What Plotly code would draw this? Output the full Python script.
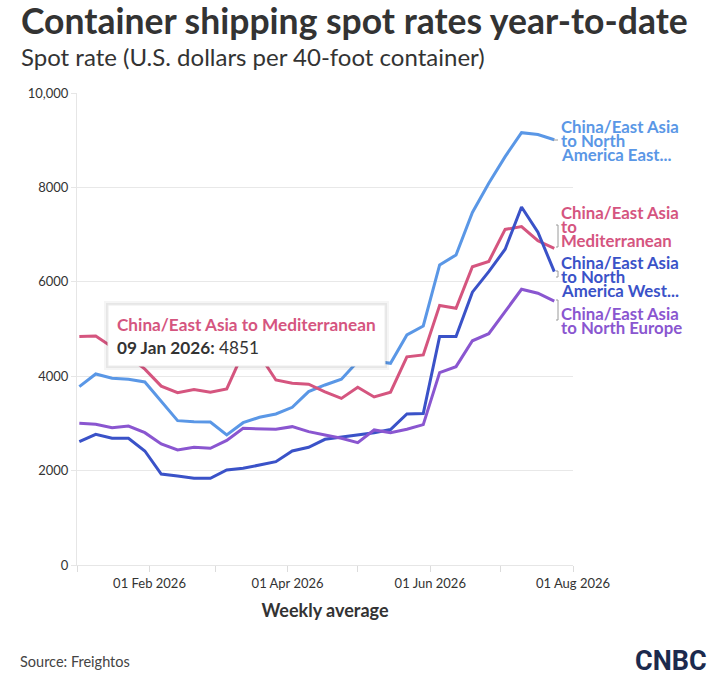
import plotly.graph_objects as go

# ---------------- data ----------------
dates = ["2026-01-02", "2026-01-09", "2026-01-16", "2026-01-23", "2026-01-30",
         "2026-02-06", "2026-02-13", "2026-02-20", "2026-02-27", "2026-03-06",
         "2026-03-13", "2026-03-20", "2026-03-27", "2026-04-03", "2026-04-10",
         "2026-04-17", "2026-04-24", "2026-05-01", "2026-05-08", "2026-05-15",
         "2026-05-22", "2026-05-29", "2026-06-05", "2026-06-12", "2026-06-19",
         "2026-06-26", "2026-07-03", "2026-07-10", "2026-07-17", "2026-07-24"]

na_east = [3778, 4047, 3956, 3935, 3878, 3475, 3058, 3037, 3030, 2755,
           3015, 3130, 3200, 3341, 3673, 3814, 3935, 4310, 4320, 4273,
           4874, 5064, 6357, 6569, 7470, 8090, 8652, 9160, 9120, 9010]
mediterranean = [4840, 4851, 4620, 4420, 4150, 3790, 3651, 3720, 3660, 3730,
                 4500, 4450, 3920, 3850, 3830, 3670, 3530, 3765, 3560, 3660,
                 4410, 4450, 5500, 5440, 6320, 6430, 7110, 7170, 6870, 6710]
na_west = [2613, 2769, 2684, 2684, 2416, 1928, 1886, 1837, 1837, 2013,
           2048, 2119, 2189, 2416, 2494, 2663, 2706, 2755, 2800, 2870,
           3200, 3210, 4840, 4840, 5780, 6215, 6690, 7585, 7050, 6215]
north_europe = [3002, 2981, 2910, 2945, 2804, 2564, 2437, 2494, 2472, 2640,
                2896, 2882, 2875, 2931, 2825, 2755, 2684, 2592, 2861, 2804,
                2875, 2975, 4075, 4202, 4750, 4900, 5380, 5842, 5757, 5590]

series_names = ["China/East Asia to North America East Coast",
                "China/East Asia to Mediterranean",
                "China/East Asia to North America West Coast",
                "China/East Asia to North Europe"]
series_label_lines = [["China/East Asia", "to North", "America East..."],
                      ["China/East Asia", "to", "Mediterranean"],
                      ["China/East Asia", "to North", "America West..."],
                      ["China/East Asia", "to North Europe"]]
series_values = [na_east, mediterranean, na_west, north_europe]
colors = ["#5a97e6", "#d5557f", "#3a52c8", "#8a56d0"]

y_tickvals = [0, 2000, 4000, 6000, 8000, 10000]
y_ticktext = ["0", "2000", "4000", "6000", "8000", "10,000"]
x_tickvals = ["2026-01-01", "2026-02-01", "2026-03-01", "2026-04-01",
              "2026-05-01", "2026-06-01", "2026-07-01", "2026-08-01"]
x_ticktext = ["", "01 Feb 2026", "", "01 Apr 2026", "", "01 Jun 2026", "", "01 Aug 2026"]

tooltip_series = "China/East Asia to Mediterranean"
tooltip_date = "09 Jan 2026"
tooltip_value = 4851

# ---------------- layout helpers ----------------
W, H = 714, 679
L, R, T, B = 77, 573, 93, 565


def px(x, y):
    return (x - L) / (R - L), (B - y) / (B - T)


FONT = "Lato, 'Open Sans', sans-serif"
TXT = "#333333"

fig = go.Figure()
for name, vals, col in zip(series_names, series_values, colors):
    fig.add_trace(go.Scatter(x=dates, y=vals, mode="lines", name=name,
                             line=dict(color=col, width=3)))

annotations = []


def text_at(x, y, text, size, color, anchor="left", family=FONT):
    ax, ay = px(x, y)
    annotations.append(dict(x=ax, y=ay, xref="paper", yref="paper", showarrow=False,
                            xanchor=anchor, yanchor="middle", text=text,
                            font=dict(family=family, size=size, color=color)))


# end labels (one annotation per line, tight line spacing)
label_top = [126, 212, 262, 313]
for lines, top, col in zip(series_label_lines, label_top, colors):
    for i, ln in enumerate(lines):
        text_at(559, top + 14.3 * i, "<b>" + ln + "</b>", 16.8, col)

shapes = []
# connectors
conn = [[(553, 140), (558, 140)],
        [(556, 225), (558, 225), (558, 247), (556, 247)],
        [(556, 271), (558, 271), (558, 277), (556, 277)],
        [(556, 300), (558, 300), (558, 320), (556, 320)]]
for pts in conn:
    path = ""
    for i, (a, b) in enumerate(pts):
        xx, yy = px(a, b)
        path += ("M" if i == 0 else "L") + f"{xx},{yy} "
    shapes.append(dict(type="path", xref="paper", yref="paper", path=path,
                       line=dict(color="#9a9a9a", width=1)))

# tooltip box with soft shadow
for off, op in [(4, 0.04), (2, 0.06)]:
    x0, y0 = px(108 - off, 366 + off)
    x1, y1 = px(385 + off, 305 - off)
    shapes.append(dict(type="rect", xref="paper", yref="paper", x0=x0, y0=y0, x1=x1, y1=y1,
                       fillcolor=f"rgba(0,0,0,{op})", line=dict(width=0), layer="above"))
x0, y0 = px(108, 366)
x1, y1 = px(385, 305)
shapes.append(dict(type="rect", xref="paper", yref="paper", x0=x0, y0=y0, x1=x1, y1=y1,
                   fillcolor="white", line=dict(color="#ececec", width=1), layer="above"))
text_at(115, 324, "<b>" + tooltip_series + "</b>", 17.2, colors[1])
text_at(115, 347, f"<b>{tooltip_date}:</b> {tooltip_value}", 17.2, TXT)

# titles and footer
text_at(19, 20, "<b>Container shipping spot rates year-to-date</b>", 35.5, "#333333")
text_at(19, 57, "Spot rate (U.S. dollars per 40-foot container)", 24, "#333333")
text_at(18, 661, "Source: Freightos", 14.5, "#444444")
text_at(709, 661, "<b>CNBC</b>", 27, "#1c2a4d", anchor="right", family="Roboto, sans-serif")

fig.update_layout(
    width=W, height=H,
    margin=dict(l=L, r=W - R, t=T, b=H - B),
    paper_bgcolor="white", plot_bgcolor="white",
    showlegend=False,
    font=dict(family=FONT, color=TXT),
    annotations=annotations,
    shapes=shapes,
    hovermode=False,
    xaxis=dict(
        type="date", range=["2026-01-01", "2026-08-01"],
        tickvals=x_tickvals, ticktext=x_ticktext,
        ticks="outside", ticklen=6, tickcolor="#dcdcdc",
        showgrid=False, showline=True, linecolor="#e6e6e6", linewidth=1,
        tickfont=dict(family=FONT, size=13, color=TXT),
        title=dict(text="<b>Weekly average</b>", standoff=14,
                   font=dict(family=FONT, size=18, color=TXT)),
        zeroline=False,
    ),
    yaxis=dict(
        range=[0, 10000],
        tickvals=y_tickvals, ticktext=y_ticktext,
        ticks="outside", ticklen=5, tickcolor="#e6e6e6",
        showgrid=True, gridcolor="#e8e8e8", gridwidth=1,
        showline=True, linecolor="#e6e6e6", linewidth=1,
        zeroline=False,
        tickfont=dict(family=FONT, size=13, color=TXT),
    ),
)

fig.write_html("out.html")
